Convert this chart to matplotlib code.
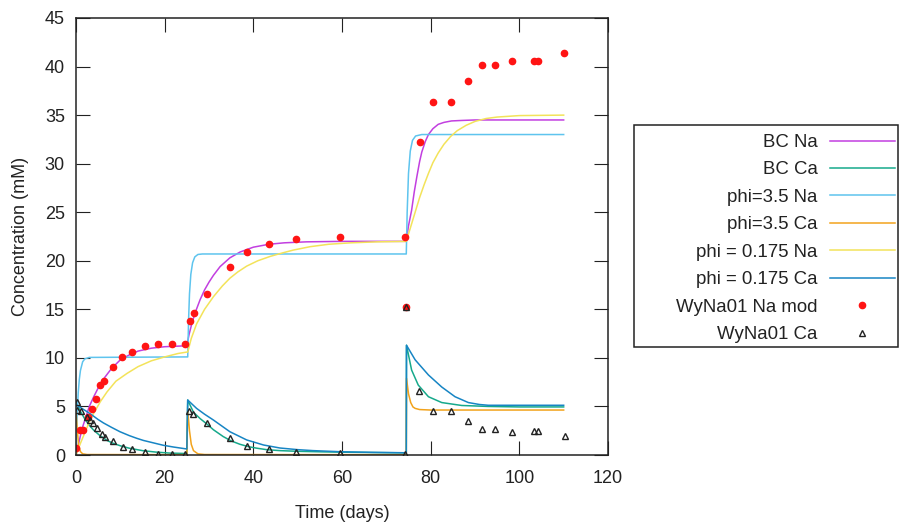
import matplotlib
matplotlib.use("Agg")
import matplotlib.pyplot as plt
from matplotlib.patches import Rectangle

plt.rcParams['font.family'] = ['Liberation Sans', 'DejaVu Sans']
plt.rcParams['font.size'] = 13

# -------------
# Model curves (three segments each: 0-25, 25-74.5, 74.5-110)
# -------------
bc_na_t = [0, 0.5, 1, 1.5, 2, 2.5, 3, 4, 5, 6, 7, 8, 10, 12, 14, 17, 20, 25,
           25.5, 26, 26.5, 27, 28, 29, 30, 31, 32.5, 34.7, 37, 40, 43.5, 47, 52, 60, 74.5,
           75, 75.7, 76.3, 76.9, 77.5, 78, 78.8, 79.5, 80.5, 81.7, 83, 84.7, 87, 90, 95, 110]
bc_na_c = [0, 1.0, 2.0, 2.9, 3.6, 4.3, 5.0, 6.0, 6.9, 7.7, 8.3, 8.9, 9.8, 10.3, 10.7, 11.0, 11.15, 11.25,
           12.4, 13.3, 14.1, 14.8, 16.0, 17.0, 17.8, 18.5, 19.4, 20.3, 20.9, 21.4, 21.7, 21.85, 21.95, 22.0, 22.0,
           23.6, 25.2, 27.1, 28.7, 30.2, 31.2, 32.3, 33.0, 33.6, 34.05, 34.25, 34.4, 34.45, 34.5, 34.5, 34.5]

bc_ca_t = [0, 1, 2, 3, 4, 5.4, 7, 8.4, 10, 12, 15, 18, 21, 25,
           25.2, 26.5, 28, 29.5, 31, 33.2, 35, 37, 39, 40.8, 43, 46, 50, 56, 62, 68, 74.5,
           74.55, 75.7, 77.2, 79.5, 82.5, 87, 93, 100, 110]
bc_ca_c = [5.4, 4.5, 3.7, 3.05, 2.55, 2.0, 1.5, 1.2, 0.95, 0.7, 0.45, 0.3, 0.2, 0.15,
           5.66, 4.4, 3.75, 3.2, 2.6, 1.9, 1.45, 1.1, 0.85, 0.7, 0.55, 0.45, 0.38, 0.32, 0.28, 0.25, 0.22,
           11.3, 8.75, 7.2, 6.0, 5.4, 5.1, 5.0, 4.95, 4.95]

p35_na_t = [0, 0.25, 0.5, 0.75, 1.0, 1.5, 2.0, 3.0, 25,
            25.2, 25.4, 25.6, 25.9, 26.3, 26.8, 27.5, 28.5, 74.5,
            74.7, 75.0, 75.4, 75.9, 76.6, 78, 110]
p35_na_c = [0, 4.0, 6.4, 7.8, 8.7, 9.6, 9.9, 10.05, 10.1,
            10.1, 14.0, 16.6, 18.6, 19.8, 20.4, 20.65, 20.7, 20.7,
            25.0, 29.0, 31.3, 32.4, 32.85, 33.0, 33.0]

p35_ca_t = [0, 0.3, 0.6, 1.0, 1.5, 2.5, 25,
            25.2, 25.6, 26, 26.5, 27.5, 29, 74.5,
            74.55, 75, 75.5, 76, 76.5, 77.5, 80, 110]
p35_ca_c = [4.5, 2.5, 1.0, 0.35, 0.12, 0.05, 0.03,
            4.6, 2.5, 1.1, 0.45, 0.12, 0.05, 0.03,
            7.9, 6.3, 5.4, 4.95, 4.8, 4.68, 4.63, 4.63]

p0175_na_t = [0, 1, 2, 3, 4, 5.5, 7, 9, 11.5, 14, 17, 20, 23, 25,
              25.2, 26, 27.2, 29, 31, 33, 34.7, 36.5, 38.5, 41, 43.8, 46.5, 49, 52.8, 57, 62, 68, 74.5,
              75.5, 76.5, 77.5, 78.5, 79.5, 80.5, 81.7, 83, 84.5, 86, 88, 90, 92.5, 95, 100, 110]
p0175_na_c = [0, 1.2, 2.3, 3.4, 4.3, 5.5, 6.5, 7.6, 8.4, 9.1, 9.7, 10.1, 10.45, 10.6,
              10.6, 12.0, 13.5, 15.0, 16.3, 17.4, 18.2, 18.85, 19.45, 20.0, 20.45, 20.8, 21.1, 21.45, 21.7, 21.85, 21.95, 22.0,
              23.5, 25.0, 26.5, 27.8, 29.0, 30.1, 31.1, 32.0, 32.8, 33.4, 33.95, 34.35, 34.65, 34.8, 34.95, 35.0]

p0175_ca_t = [0, 1.5, 3.2, 5, 6.2, 8, 9.9, 12, 13.7, 15.2, 17, 19.7, 22, 25,
              25.2, 27.2, 29, 31, 34.7, 38.5, 42.3, 46, 50, 53.5, 60, 67, 74.5,
              74.55, 76.5, 79.5, 82.5, 85.5, 88.5, 91, 93, 97, 110]
p0175_ca_c = [5.2, 4.75, 4.25, 3.65, 3.3, 2.85, 2.4, 2.0, 1.72, 1.5, 1.3, 1.0, 0.82, 0.62,
              5.66, 4.8, 4.2, 3.6, 2.4, 1.55, 1.03, 0.72, 0.55, 0.45, 0.33, 0.27, 0.23,
              11.3, 9.8, 8.24, 7.0, 6.0, 5.4, 5.2, 5.12, 5.12, 5.12]

# -------------
# Measured data
# -------------
wy_na_t = [0.1, 0.8, 1.5, 2.6, 3.5, 4.5, 5.4, 6.4, 8.4, 10.3, 12.6, 15.6, 18.6, 21.6, 24.6,
           25.7, 26.6, 29.5, 34.7, 38.6, 43.5, 49.6, 59.5, 74.2,
           74.4, 77.6, 80.5, 84.5, 88.5, 91.5, 94.5, 98.4, 103.3, 104.1, 110.1]
wy_na_c = [0.7, 2.6, 2.6, 3.9, 4.7, 5.8, 7.2, 7.6, 9.1, 10.1, 10.6, 11.2, 11.4, 11.4, 11.4,
           13.8, 14.6, 16.6, 19.4, 20.9, 21.7, 22.2, 22.4, 22.4,
           15.2, 32.2, 36.3, 36.3, 38.5, 40.2, 40.2, 40.6, 40.6, 40.6, 41.4]

wy_ca_t = [0.15, 0.3, 1.2, 2.4, 3.2, 3.9, 4.8, 5.8, 6.5, 8.3, 10.5, 12.6, 15.6, 18.6, 21.6, 24.6,
           25.6, 26.5, 29.6, 34.7, 38.6, 43.6, 49.6, 59.6, 74.2,
           74.4, 77.4, 80.5, 84.5, 88.5, 91.5, 94.4, 98.3, 103.4, 104.1, 110.2]
wy_ca_c = [5.5, 4.6, 4.5, 3.9, 3.6, 3.25, 2.8, 2.2, 1.9, 1.4, 0.86, 0.6, 0.28, 0.12, 0.07, 0.1,
           4.56, 4.2, 3.26, 1.8, 0.96, 0.59, 0.34, 0.17, 0.1,
           15.2, 6.6, 4.56, 4.56, 3.5, 2.68, 2.68, 2.4, 2.43, 2.43, 2.0]

# -------------
# Drawing plot
# -------------
fig = plt.figure(figsize=(9, 5.27), dpi=100)
ax = fig.add_axes([76 / 900, 72 / 527, 532 / 900, 437 / 527])

lw = 1.1
ax.plot(bc_na_t, bc_na_c, color='#c23fe0', lw=lw, label='BC Na')
ax.plot(bc_ca_t, bc_ca_c, color='#16a98b', lw=lw, label='BC Ca')
ax.plot(p35_na_t, p35_na_c, color='#5ec4ee', lw=lw, label='phi=3.5 Na')
ax.plot(p35_ca_t, p35_ca_c, color='#f2a31c', lw=lw, label='phi=3.5 Ca')
ax.plot(p0175_na_t, p0175_na_c, color='#f3e35a', lw=lw, label='phi = 0.175 Na')
ax.plot(p0175_ca_t, p0175_ca_c, color='#1785c4', lw=lw, label='phi = 0.175 Ca')
ax.plot(wy_na_t, wy_na_c, ls='none', marker='o', ms=4.5, color='#ff1414',
        mec='#ff1414', label='WyNa01 Na mod')
ax.plot(wy_ca_t, wy_ca_c, ls='none', marker='^', ms=5, mfc='none', mec='#222222',
        mew=1.0, label='WyNa01 Ca')

ax.set_xlim(0, 120)
ax.set_ylim(0, 45)
ax.set_xticks(range(0, 121, 20))
ax.set_yticks(range(0, 46, 5))
ax.tick_params(direction='in', length=10, width=0.8, top=True, right=True,
               labelsize=13, colors='#222222')
ax.tick_params(axis='x', pad=11)
ax.tick_params(axis='y', pad=8)
for sp in ax.spines.values():
    sp.set_linewidth(1.1)
    sp.set_color('#222222')

ax.set_xlabel('Time (days)', fontsize=13, labelpad=13, color='#222222')
ax.set_ylabel('Concentration (mM)', fontsize=13, labelpad=11, color='#222222')

leg = fig.legend(loc='upper right', bbox_to_anchor=(895 / 900, 1 - 134 / 527),
                 frameon=False, markerfirst=False, handlelength=3.5,
                 handletextpad=0.65, labelspacing=0.56, borderpad=0,
                 borderaxespad=0, fontsize=13.4, numpoints=1)
for txt in leg.get_texts():
    txt.set_color('#222222')

fig.patches.append(Rectangle((634 / 900, 1 - 347 / 527), 264 / 900, 222 / 527,
                             transform=fig.transFigure, fill=False,
                             edgecolor='#222222', lw=1.1))

fig.savefig('out.png', dpi=100)
